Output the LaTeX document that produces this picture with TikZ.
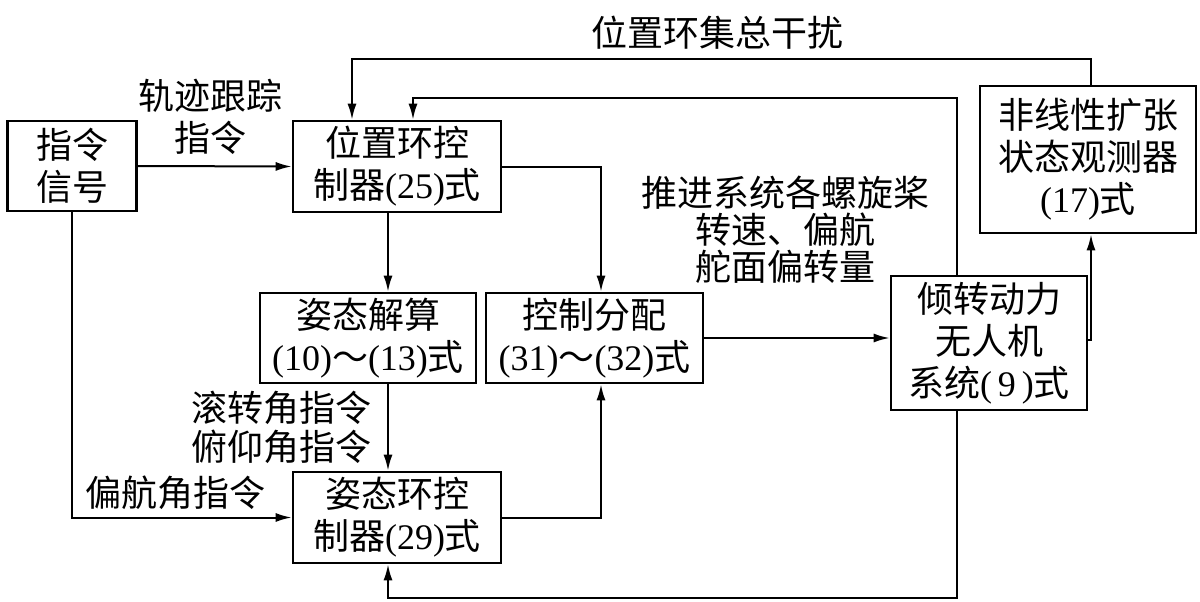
\documentclass[tikz,border=0pt]{standalone}
\usepackage{fontspec}
\setmainfont{Noto Sans CJK SC}
\newfontfamily\tm{Liberation Serif}
\usetikzlibrary{arrows.meta}
\newcommand\myfs{\fontsize{36}{42}\selectfont}
\begin{document}
\begin{tikzpicture}[x=1pt,y=-1pt,line width=2pt,
  arr/.style={-{Latex[length=16pt,width=9pt]}},
  blk/.style={draw,line width=2.6pt,align=center,inner sep=0pt,font=\myfs},
  lbl/.style={align=center,inner sep=0pt,font=\myfs}]
\path[use as bounding box] (0,0) rectangle (1200,602);
% blocks
\node[blk,minimum width=129pt,minimum height=90pt] (sig) at (72,166) {指令\\信号};
\node[blk,minimum width=208pt,minimum height=91pt] (pos) at (397,166.5) {位置环控\\制器{\tm(25)}式};
\node[blk,minimum width=216pt,minimum height=90pt] (att) at (368,338) {姿态解算\\{\tm(10)}～{\tm(13)}式};
\node[blk,minimum width=217pt,minimum height=90pt] (alloc) at (594.5,338) {控制分配\\{\tm(31)}～{\tm(32)}式};
\node[blk,minimum width=208pt,minimum height=91pt] (attc) at (397,517.5) {姿态环控\\制器{\tm(29)}式};
\node[blk,minimum width=196pt,minimum height=134pt] (plant) at (989,343) {倾转动力\\无人机\\系统{\tm(\,9\,)}式};
\node[blk,minimum width=216pt,minimum height=147pt] (eso) at (1088,159.5) {非线性扩张\\状态观测器\\{\tm(17)}式};
% labels
\node[lbl] (ttl) at (717,33) {位置环集总干扰};
\node[lbl] (l1) at (210,117) {轨迹跟踪\\指令};
\node[lbl,font=\fontsize{36}{37}\selectfont] (l2) at (785,230) {推进系统各螺旋桨\\转速、偏航\\舵面偏转量};
\node[lbl,font=\fontsize{36}{39}\selectfont] (l3) at (281,427.5) {滚转角指令\\俯仰角指令};
\node[lbl] (l4) at (175,493) {偏航角指令};
% helper coordinates
\coordinate (cx1) at (601,0);
\coordinate (cx2) at (388,0);
\coordinate (cr) at (1091,340);
\coordinate (t1) at (352,59);
\coordinate (t2) at (413,98);
\coordinate (c5) at (957,98);
\coordinate (b1) at (957,598);
% connectors
\draw[arr] (sig.east) -- (pos.west);
\draw[arr] (sig.south) |- (attc.west);
\draw[arr] (pos.south -| cx2) -- (att.north -| cx2);
\draw[arr] (att.south -| cx2) -- (attc.north -| cx2);
\draw[arr] (pos.east) -| (alloc.north -| cx1);
\draw[arr] (attc.east) -| (alloc.south -| cx1);
\draw[arr] (alloc.east) -- (alloc.east -| plant.west);
\draw[arr] (plant.east |- cr) -| (eso.south -| cr);
\draw[arr] (eso.north -| cr) |- (t1) -- (pos.north -| t1);
\draw[arr] (plant.north -| c5) -- (c5) -- (t2) -- (pos.north -| t2);
\draw[arr] (plant.south -| b1) -- (b1) -| (attc.south -| cx2);
\end{tikzpicture}
\end{document}
